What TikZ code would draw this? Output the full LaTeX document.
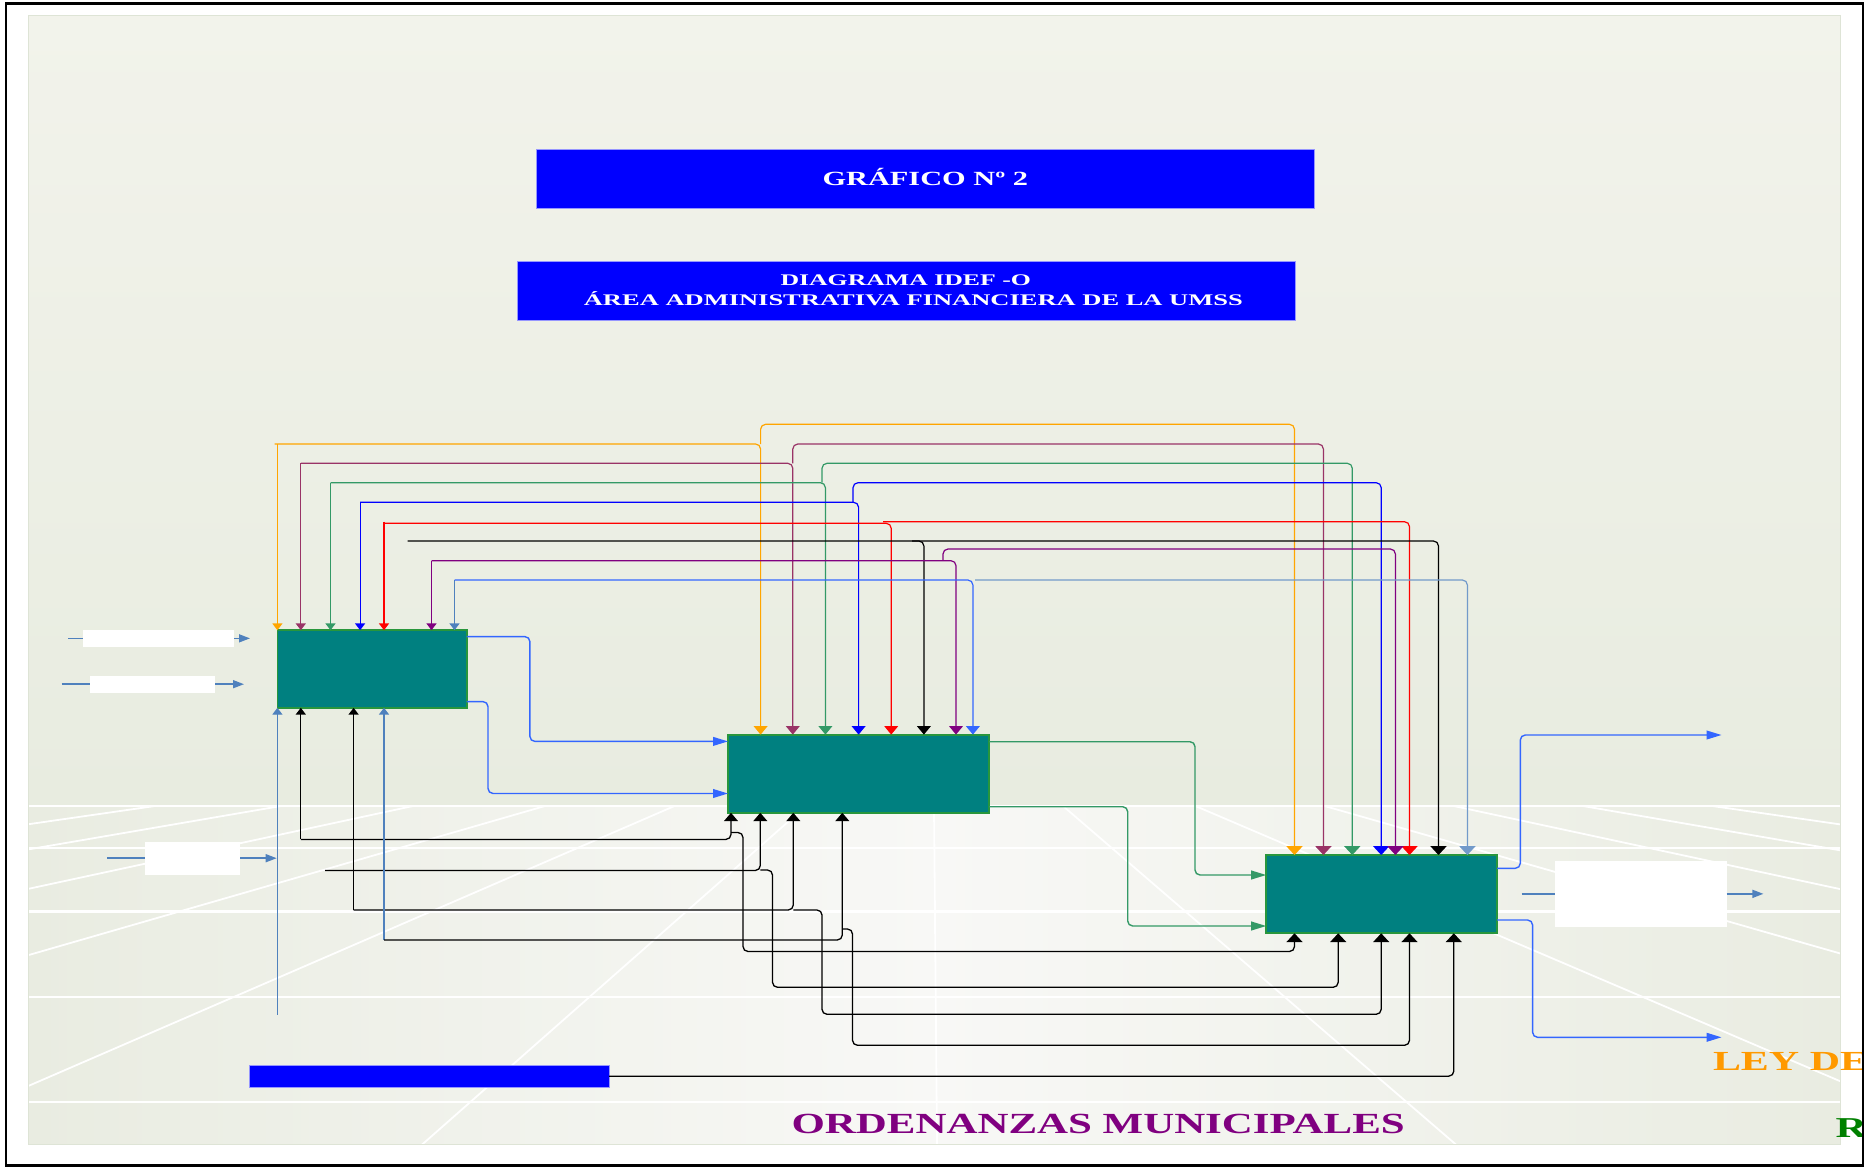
\documentclass[tikz,border=0pt]{standalone}
\usepackage{fontspec}
\usepackage{graphicx}
\setmainfont{Liberation Serif}
\usetikzlibrary{arrows.meta}

\definecolor{bgTop}{RGB}{242,243,235}
\definecolor{bgMid}{RGB}{232,236,224}
\definecolor{flEdge}{RGB}{233,236,225}
\definecolor{flMid}{RGB}{248,248,246}
\definecolor{panelLine}{RGB}{222,228,214}
\definecolor{cTeal}{RGB}{0,128,128}
\definecolor{cBoxLine}{RGB}{40,150,60}
\definecolor{cOr}{RGB}{255,165,0}
\definecolor{cMa}{RGB}{153,51,102}
\definecolor{cGr}{RGB}{51,153,102}
\definecolor{cBl}{RGB}{0,0,255}
\definecolor{cRe}{RGB}{255,0,0}
\definecolor{cPu}{RGB}{128,0,128}
\definecolor{cSt}{RGB}{79,129,189}
\definecolor{cBr}{RGB}{51,102,255}
\definecolor{cTitle}{RGB}{0,0,255}
\definecolor{cTitleEdge}{RGB}{150,150,255}
\definecolor{cLey}{RGB}{255,153,0}
\definecolor{cRgreen}{RGB}{0,128,0}

\tikzset{
  tv/.tip={Triangle[length=4.2pt,width=6.8pt]},
  tc/.tip={Triangle[length=4.4pt,width=8pt]},
  ts/.tip={Triangle[length=3.4pt,width=5pt]},
  tu/.tip={Triangle[length=4.2pt,width=7pt]},
  tus/.tip={Triangle[length=3.4pt,width=5pt]},
  th/.tip={Triangle[length=7.5pt,width=4.4pt]},
  ths/.tip={Triangle[length=5.5pt,width=4pt]},
  ctl/.style={draw=#1, line width=0.6pt, rounded corners=2.5pt},
  mech/.style={draw=black, line width=0.65pt, rounded corners=2.5pt},
  inp/.style={draw=cSt, line width=0.75pt},
  outb/.style={draw=cBr, line width=0.7pt, rounded corners=2.5pt},
  outg/.style={draw=cGr, line width=0.7pt, rounded corners=2.5pt},
  grid/.style={draw=white, line width=0.9pt},
  actbox/.style={draw=cBoxLine, fill=cTeal, line width=0.9pt, inner sep=0pt, outer sep=0pt},
  blank/.style={fill=white, draw=none, inner sep=0pt, outer sep=0pt},
  titlebox/.style={fill=cTitle, draw=cTitleEdge, line width=0.4pt, inner sep=0pt, outer sep=0pt},
  txt/.style={inner sep=0pt, outer sep=0pt, font=\bfseries}
}

\begin{document}
\begin{tikzpicture}[x=0.5pt,y=-0.5pt]
\useasboundingbox (0,0) rectangle (1865,1167);
\fill[white] (0,0) rectangle (1865,1167);

% backdrop: wall and perspective floor
\shade[top color=bgTop, bottom color=bgMid] (28.5,15) rectangle (1840,805);
\shade[left color=flEdge, right color=flEdge, middle color=flMid] (28.5,805) rectangle (1840,1144);
\begin{scope}
  \clip (28.5,805) rectangle (1840,1144);
  \foreach \x in {155,281,413,545,674.5,806,934,1063,1195.4,1324.6,1453.8,1583,1712.3}
    \draw[grid] (933,694) -- ({933+6*(\x-933)},{694+6*112});
  \foreach \y in {805.5,848,911.5,996.7,1101.7}
    \draw[grid, line width=1.1pt] (28.5,\y) -- (1840,\y);
\end{scope}
\draw[panelLine, line width=0.5pt] (28.5,15) rectangle (1840,1144);

% titles
\node[titlebox, minimum width=388.75pt, minimum height=29.65pt] (t1) at (925.25,178.65) {};
\node[txt, anchor=base, text=white] (t1txt) at (925.3,185)
  {\fontsize{10.05}{12}\selectfont\bfseries\scalebox{1.51}[1]{GRÁFICO Nº 2}};
\node[titlebox, minimum width=388.95pt, minimum height=29.5pt] (t2) at (906.35,291.2) {};
\node[txt, anchor=base, text=white] (t2a) at (905.7,285.7)
  {\fontsize{8.1}{10}\selectfont\bfseries\scalebox{1.59}[1]{DIAGRAMA IDEF -O}};
\node[txt, anchor=base, text=white] (t2b) at (913.4,305.7)
  {\fontsize{8.1}{10}\selectfont\bfseries\scalebox{1.635}[1]{ÁREA ADMINISTRATIVA FINANCIERA DE LA UMSS}};

% activity boxes
\node[actbox, minimum width=94.65pt, minimum height=38.8pt] (A) at (372.05,669) {};
\node[actbox, minimum width=130.6pt, minimum height=39.1pt] (B) at (858.6,773.7) {};
\node[actbox, minimum width=115.4pt, minimum height=39.15pt] (C) at (1381.6,894.15) {};

% label blanks and the mechanism bar
\node[blank, minimum width=75.65pt, minimum height=8.35pt] (W1) at (158.35,638.35) {};
\node[blank, minimum width=62.5pt, minimum height=8.5pt] (W2) at (152.5,684.2) {};
\node[blank, minimum width=47.5pt, minimum height=16.5pt] (W3) at (192.5,858.2) {};
\node[blank, minimum width=85.55pt, minimum height=32.85pt] (W4) at (1641,893.85) {};
\node[titlebox, minimum width=179.85pt, minimum height=11.15pt] (BR) at (429.15,1076.15) {};

% free ends
\coordinate (i1s) at (68,638.35);
\coordinate (i1e) at (250,638.35);
\coordinate (i2s) at (61.7,684.2);
\coordinate (i2e) at (244,684.2);
\coordinate (i3s) at (107.3,858.2);
\coordinate (i3e) at (276.7,858.2);
\coordinate (vin) at (277.4,1014.8);
\coordinate (o1) at (1721.5,735);
\coordinate (o2s) at (1521.5,893.85);
\coordinate (o2e) at (1763.4,893.85);
\coordinate (o3) at (1721.5,1037.3);
\coordinate (m2s) at (325,870.5);
\coordinate (k1s) at (407.6,541);

% controls (top): square corner over box A, rounded bends elsewhere
\draw[ctl=cOr, -ts] (277.4,444) -- (277.4,0|-A.north);
\draw[ctl=cOr, -tv] (274.5,444) -| (760.6,0|-B.north);
\draw[ctl=cOr, -tc] (760.6,444) |- (1294.5,424.3) -- (1294.5,0|-C.north);
\draw[ctl=cMa, -ts] (300.8,463.3) -- (300.8,0|-A.north);
\draw[ctl=cMa, -tv] (300.8,463.3) -| (792.8,0|-B.north);
\draw[ctl=cMa, -tc] (792.8,463.3) |- (1323.4,444) -- (1323.4,0|-C.north);
\draw[ctl=cGr, -ts] (330.5,482.7) -- (330.5,0|-A.north);
\draw[ctl=cGr, -tv] (330.5,482.7) -| (825.4,0|-B.north);
\draw[ctl=cGr, -tc] (822,482.7) |- (1352.3,463.3) -- (1352.3,0|-C.north);
\draw[ctl=cBl, -ts] (360.1,502.3) -- (360.1,0|-A.north);
\draw[ctl=cBl, -tv] (360.1,502.3) -| (858.6,0|-B.north);
\draw[ctl=cBl, -tc] (853,502.3) |- (1381.2,482.7) -- (1381.2,0|-C.north);
\draw[ctl=cRe, -ts] (384,521.5) -- (384,0|-A.north);
\draw[ctl=cRe, -tv] (384,523.3) -| (891.2,0|-B.north);
\draw[ctl=cRe, -tc] (883,521.7) -| (1409.5,0|-C.north);
\draw[ctl=black, -tv] (k1s) -| (923.9,0|-B.north);
\draw[ctl=black, -tc] (912,541) -| (1438.5,0|-C.north);
\draw[ctl=cPu, -ts] (431.5,560.7) -- (431.5,0|-A.north);
\draw[ctl=cPu, -tv] (431.5,560.7) -| (956,0|-B.north);
\draw[ctl=cPu, -tc] (943,560.7) |- (1395.4,549) -- (1395.4,0|-C.north);
\draw[ctl=cSt, -ts] (454.5,580) -- (454.5,0|-A.north);
\draw[ctl=cBr, -tv] (454.5,580) -| (972.9,0|-B.north);
\draw[ctl=cSt!80, -tc] (975,580) -| (1467.4,0|-C.north);

% mechanisms (bottom)
\draw[mech, -tus] (300.8,839.4) -- (300.8,0|-A.south);
\draw[mech, -tu] (300.8,839.4) -| (731,0|-B.south);
\draw[mech, -tc] (731,832.5) -| (743,951.5) -| (1294.5,0|-C.south);
\draw[mech, -tu] (m2s) -| (760.3,0|-B.south);
\draw[mech, -tc] (760.3,870) -| (772.5,987.3) -| (1338.2,0|-C.south);
\draw[mech, -tus] (353.6,910) -- (353.6,0|-A.south);
\draw[mech, -tu] (353.6,910) -| (793.3,0|-B.south);
\draw[mech, -tc] (793.3,910) -| (822,1014.3) -| (1381.2,0|-C.south);
\draw[draw=cSt, line width=0.65pt, -tus] (384,940) -- (384,0|-A.south);
\draw[mech, -tu] (384,940) -| (842.3,0|-B.south);
\draw[mech, -tc] (842.3,929) -| (852.5,1045.3) -| (1409.5,0|-C.south);
\draw[mech, -tc] (BR.east) -| (1453.8,0|-C.south);
\draw[inp, line width=0.6pt, -tus] (vin) -- (A.south west);

% inputs (left)
\draw[inp] (i1s) -- (W1.west);
\draw[inp, -ths] (W1.east) -- (i1e);
\draw[inp] (i2s) -- (W2.west);
\draw[inp, -ths] (W2.east) -- (i2e);
\draw[inp] (i3s) -- (W3.west);
\draw[inp, -ths] (W3.east) -- (i3e);

% outputs
\draw[outb, -th] (A.east|-0,636.6) -| (529.9,741.4) -- (B.west|-0,741.4);
\draw[outb, -th] (A.east|-0,701.6) -| (488,793.5) -- (B.west|-0,793.5);
\draw[outg, -th] (B.east|-0,741.7) -| (1195,875) -- (C.west|-0,875);
\draw[outg, -th] (B.east|-0,806.7) -| (1127.7,926) -- (C.west|-0,926);
\draw[outb, -th] (C.east|-0,868.3) -| (1520.3,735) -- (o1);
\draw[inp] (o2s) -- (W4.west);
\draw[inp, -ths] (W4.east) -- (o2e);
\draw[outb, -th] (C.east|-0,920) -| (1532.6,1037.3) -- (o3);

% legal references along the floor
\node[txt, anchor=base, text=cPu] (ord) at (1098.2,1133.3)
  {\fontsize{14.6}{17}\selectfont\bfseries\scalebox{1.47}[1]{ORDENANZAS MUNICIPALES}};
\begin{scope}
  \clip (0,0) rectangle (1862,1167);
  \node[txt, anchor=base west, text=cLey] (ley) at (1713,1070)
    {\fontsize{13.8}{16}\selectfont\bfseries\scalebox{1.52}[1]{LEY DE}};
  \node[txt, anchor=base west, text=cRgreen] (rr) at (1835.5,1137.3)
    {\fontsize{14.4}{17}\selectfont\bfseries\scalebox{1.5}[1]{R}};
\end{scope}

% frame
\draw[black, line width=1.2pt] (5.7,3.7) rectangle (1863,1165.5);
\end{tikzpicture}
\end{document}
